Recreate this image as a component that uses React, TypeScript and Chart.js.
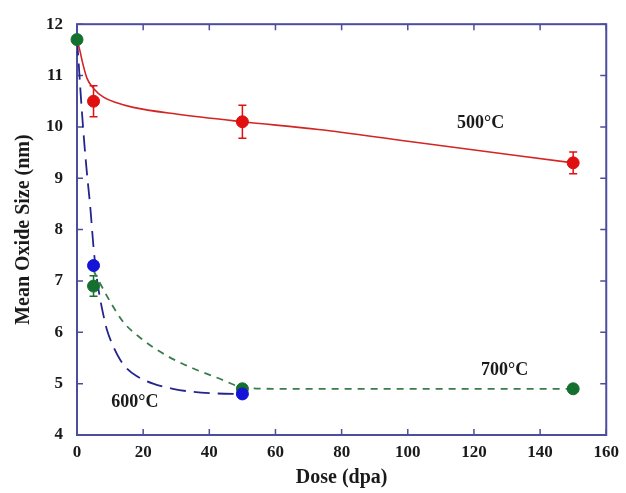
import React, { useEffect, useRef } from "react";
import { Chart, registerables } from "chart.js";

Chart.register(...registerables);

// ---- data ----
const xMin = 0;
const xMax = 160;
const xStep = 20;
const yMin = 4;
const yMax = 12;
const yStep = 1;

const pointDose500 = [5, 50, 150];
const pointSize500 = [10.5, 10.1, 9.3];
const pointErr500 = [0.3, 0.32, 0.21];

const pointDose600 = [5, 50];
const pointSize600 = [7.3, 4.8];

const pointDose700 = [0, 5, 50, 150];
const pointSize700 = [11.7, 6.9, 4.9, 4.9];
const pointErr700 = [0, 0.2, 0, 0];

const fitDose500 = [0, 1, 1.5, 3, 5, 8, 12, 17, 30, 50, 73, 100, 150];
const fitSize500 = [11.7, 11.45, 11.3, 10.95, 10.75, 10.58, 10.47, 10.38, 10.25, 10.1, 9.95, 9.72, 9.3];

const fitDose600 = [0, 0.5, 1, 2, 3, 4, 5, 6, 7, 8, 9, 11, 13, 15, 18, 23, 29, 35, 42, 50];
const fitSize600 = [11.7, 11.25, 10.75, 9.85, 9.1, 8.45, 7.65, 7.05, 6.65, 6.33, 6.06, 5.72, 5.47, 5.3, 5.15, 5.0, 4.9, 4.84, 4.81, 4.8];

const fitDose700 = [5, 7, 10, 14, 19, 27, 35, 43, 50, 60, 150];
const fitSize700 = [7.2, 6.95, 6.6, 6.2, 5.9, 5.55, 5.3, 5.1, 4.93, 4.9, 4.9];

const labelTexts = ["500°C", "600°C", "700°C"];
const labelDose = [122, 17.5, 129.3];
const labelSize = [10.07, 4.645, 5.26];

const xTitle = "Dose (dpa)";
const yTitle = "Mean Oxide Size (nm)";

// ---- styles ----
const FONT = "'Liberation Serif', 'Times New Roman', serif";
const FRAME = "#4d4d9d";
const RED = "#e01010";
const BLUE = "#1414d8";
const GREEN = "#13702e";

const toXY = (xs: number[], ys: number[]) => xs.map((x, i) => ({ x, y: ys[i] }));

const framePlugin = {
  id: "frameTicks",
  beforeDatasetsDraw(chart: any) {
    const { ctx, chartArea: a, scales } = chart;
    const xs = scales.x;
    const ys = scales.y;
    ctx.save();
    ctx.strokeStyle = FRAME;
    ctx.lineWidth = 2;
    ctx.strokeRect(a.left, a.top, a.right - a.left, a.bottom - a.top);
    ctx.lineWidth = 1.5;
    const L = 6;
    ctx.beginPath();
    xs.ticks.forEach((t: any) => {
      const px = xs.getPixelForValue(t.value);
      ctx.moveTo(px, a.bottom);
      ctx.lineTo(px, a.bottom - L);
      ctx.moveTo(px, a.top);
      ctx.lineTo(px, a.top + L);
    });
    ys.ticks.forEach((t: any) => {
      const py = ys.getPixelForValue(t.value);
      ctx.moveTo(a.left, py);
      ctx.lineTo(a.left + L, py);
      ctx.moveTo(a.right, py);
      ctx.lineTo(a.right - L, py);
    });
    ctx.stroke();

    // error bars
    const drawErr = (xv: number[], yv: number[], ev: number[], color: string) => {
      ctx.strokeStyle = color;
      ctx.lineWidth = 1.5;
      xv.forEach((x, i) => {
        if (!ev[i]) return;
        const px = xs.getPixelForValue(x);
        const p1 = ys.getPixelForValue(yv[i] + ev[i]);
        const p2 = ys.getPixelForValue(yv[i] - ev[i]);
        ctx.beginPath();
        ctx.moveTo(px, p1);
        ctx.lineTo(px, p2);
        ctx.moveTo(px - 4, p1);
        ctx.lineTo(px + 4, p1);
        ctx.moveTo(px - 4, p2);
        ctx.lineTo(px + 4, p2);
        ctx.stroke();
      });
    };
    drawErr(pointDose500, pointSize500, pointErr500, RED);
    drawErr(pointDose700, pointSize700, pointErr700, GREEN);
    ctx.restore();
  },
  afterDraw(chart: any) {
    const { ctx, scales } = chart;
    ctx.save();
    ctx.fillStyle = "#1a1a1a";
    ctx.font = `bold 18px ${FONT}`;
    ctx.textAlign = "center";
    ctx.textBaseline = "middle";
    labelTexts.forEach((t, i) => {
      ctx.fillText(t, scales.x.getPixelForValue(labelDose[i]), scales.y.getPixelForValue(labelSize[i]));
    });
    ctx.restore();
  },
};

export default function App() {
  const ref = useRef<HTMLCanvasElement | null>(null);

  useEffect(() => {
    if (!ref.current) return;
    const chart = new Chart(ref.current, {
      type: "line",
      data: {
        datasets: [
          {
            label: "500 pts",
            data: toXY(pointDose500, pointSize500),
            showLine: false,
            pointRadius: 6,
            pointBackgroundColor: RED,
            pointBorderColor: RED,
            order: 0,
            clip: false,
          },
          {
            label: "600 pts",
            data: toXY(pointDose600, pointSize600),
            showLine: false,
            pointRadius: 6,
            pointBackgroundColor: BLUE,
            pointBorderColor: BLUE,
            order: 0,
            clip: false,
          },
          {
            label: "700 pts",
            data: toXY(pointDose700, pointSize700),
            showLine: false,
            pointRadius: 6,
            pointBackgroundColor: GREEN,
            pointBorderColor: GREEN,
            order: 0,
            clip: false,
          },
          {
            label: "500 fit",
            data: toXY(fitDose500, fitSize500),
            borderColor: "#d42424",
            borderWidth: 1.6,
            pointRadius: 0,
            cubicInterpolationMode: "monotone",
            order: 1,
          },
          {
            label: "600 fit",
            data: toXY(fitDose600, fitSize600),
            borderColor: "#24248c",
            borderWidth: 1.8,
            borderDash: [16, 8],
            pointRadius: 0,
            cubicInterpolationMode: "monotone",
            order: 1,
          },
          {
            label: "700 fit",
            data: toXY(fitDose700, fitSize700),
            borderColor: "#3a7c4c",
            borderWidth: 1.8,
            borderDash: [7, 6],
            pointRadius: 0,
            cubicInterpolationMode: "monotone",
            order: 1,
          },
        ],
      },
      options: {
        animation: false,
        responsive: false,
        devicePixelRatio: 1,
        layout: { padding: { top: 19, right: 18, left: 0, bottom: 0 } },
        plugins: { legend: { display: false }, tooltip: { enabled: false } },
        scales: {
          x: {
            type: "linear",
            min: xMin,
            max: xMax,
            ticks: {
              stepSize: xStep,
              padding: 7,
              color: "#1a1a1a",
              font: { family: FONT, size: 17, weight: "bold" },
            },
            grid: { display: false, drawTicks: false },
            border: { display: false },
            title: {
              display: true,
              text: xTitle,
              color: "#1a1a1a",
              font: { family: FONT, size: 20, weight: "bold" },
              padding: { top: 0, bottom: 3 },
            },
            afterFit: (s: any) => {
              s.height = 58;
            },
          },
          y: {
            type: "linear",
            min: yMin,
            max: yMax,
            ticks: {
              stepSize: yStep,
              padding: 14,
              color: "#1a1a1a",
              font: { family: FONT, size: 17, weight: "bold" },
            },
            grid: { display: false, drawTicks: false },
            border: { display: false },
            title: {
              display: true,
              text: yTitle,
              color: "#1a1a1a",
              font: { family: FONT, size: 20, weight: "bold" },
              padding: { top: 12, bottom: 0 },
            },
            afterFit: (s: any) => {
              s.width = 77;
            },
          },
        },
      } as any,
      plugins: [framePlugin],
    });
    return () => chart.destroy();
  }, []);

  return (
    <div style={{ position: "absolute", left: 0, top: 0, width: 626, height: 493, background: "#fff" }}>
      <canvas ref={ref} width={626} height={493} style={{ display: "block" }} />
    </div>
  );
}
